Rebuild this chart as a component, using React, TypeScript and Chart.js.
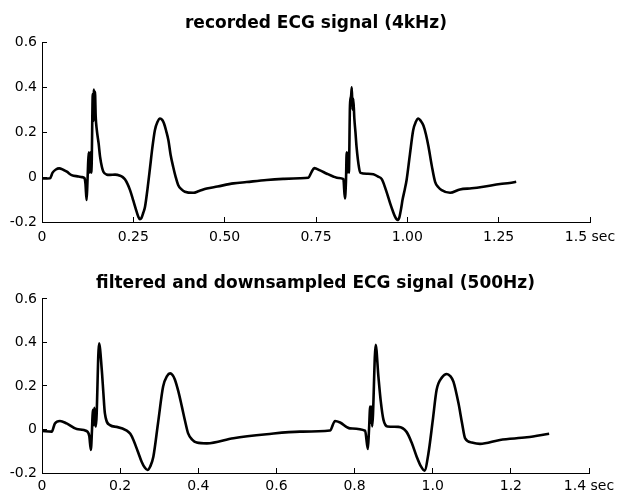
import React, { useEffect, useRef } from "react";
import { Chart, registerables } from "chart.js";

Chart.register(...registerables);

// recorded ECG (4kHz) — time (s) and amplitude
const recordedTimes = [
  0, 0.022, 0.029, 0.038, 0.047, 0.058, 0.068, 0.081, 0.1, 0.109, 0.116, 0.119, 0.122, 0.124,
  0.126, 0.128, 0.13, 0.132, 0.134, 0.136, 0.139, 0.141, 0.142, 0.144, 0.145, 0.147, 0.15,
  0.155, 0.159, 0.164, 0.168, 0.176, 0.186, 0.2, 0.214, 0.221, 0.227, 0.234, 0.241, 0.25,
  0.259, 0.264, 0.268, 0.272, 0.277, 0.282, 0.289, 0.296, 0.302, 0.309, 0.316, 0.323, 0.329,
  0.334, 0.34, 0.346, 0.352, 0.359, 0.366, 0.373, 0.382, 0.391, 0.414, 0.43, 0.451, 0.48,
  0.524, 0.56, 0.615, 0.66, 0.706, 0.729, 0.737, 0.745, 0.761, 0.78, 0.797, 0.812, 0.825,
  0.829, 0.832, 0.834, 0.836, 0.838, 0.84, 0.843, 0.846, 0.848, 0.85, 0.852, 0.855, 0.858,
  0.861, 0.868, 0.872, 0.89, 0.907, 0.92, 0.93, 0.942, 0.953, 0.96, 0.966, 0.973, 0.978,
  0.983, 0.987, 0.993, 0.998, 1.007, 1.016, 1.023, 1.03, 1.037, 1.044, 1.051, 1.058, 1.067,
  1.076, 1.085, 1.094, 1.117, 1.144, 1.176, 1.208, 1.254, 1.28, 1.298,
];
const recordedValues = [
  -0.006, -0.005, 0.02, 0.034, 0.039, 0.033, 0.024, 0.009, 0.003, 0.0, -0.004, -0.03, -0.102,
  -0.04, 0.05, 0.11, 0.02, 0.11, 0.02, 0.06, 0.37, 0.25, 0.39, 0.33, 0.38, 0.27, 0.21, 0.15,
  0.09, 0.045, 0.024, 0.012, 0.01, 0.011, 0.006, 0.0, -0.01, -0.03, -0.058, -0.105, -0.154,
  -0.178, -0.188, -0.183, -0.16, -0.132, -0.05, 0.046, 0.13, 0.209, 0.245, 0.261, 0.255, 0.239,
  0.205, 0.164, 0.1, 0.046, 0.0, -0.036, -0.055, -0.065, -0.07, -0.062, -0.051, -0.042, -0.028,
  -0.022, -0.013, -0.008, -0.005, -0.003, 0.02, 0.04, 0.03, 0.015, 0.003, -0.004, -0.009,
  -0.095, -0.02, 0.11, 0.02, 0.11, 0.02, 0.32, 0.36, 0.4, 0.3, 0.35, 0.26, 0.2, 0.135, 0.04,
  0.019, 0.015, 0.013, 0.002, -0.009, -0.06, -0.117, -0.15, -0.175, -0.191, -0.18, -0.14, -0.1,
  -0.055, -0.013, 0.1, 0.209, 0.245, 0.261, 0.25, 0.23, 0.19, 0.135, 0.05, -0.021, -0.045,
  -0.058, -0.07, -0.055, -0.05, -0.043, -0.031, -0.026, -0.021,
];

// filtered and downsampled ECG (500Hz)
const filteredTimes = [
  0, 0.025, 0.033, 0.046, 0.063, 0.089, 0.114, 0.121, 0.125, 0.128, 0.13, 0.132, 0.134, 0.136,
  0.138, 0.146, 0.153, 0.157, 0.161, 0.174, 0.191, 0.217, 0.226, 0.234, 0.245, 0.255, 0.263,
  0.27, 0.277, 0.285, 0.297, 0.31, 0.32, 0.328, 0.334, 0.34, 0.349, 0.358, 0.366, 0.374, 0.385,
  0.396, 0.422, 0.49, 0.575, 0.66, 0.737, 0.75, 0.763, 0.788, 0.827, 0.834, 0.837, 0.84, 0.842,
  0.843, 0.845, 0.854, 0.861, 0.867, 0.874, 0.884, 0.912, 0.933, 0.946, 0.959, 0.97, 0.979,
  0.989, 1.0, 1.01, 1.024, 1.036, 1.045, 1.053, 1.066, 1.075, 1.083, 1.1, 1.121, 1.172, 1.241,
  1.298,
];
const filteredValues = [
  -0.007, -0.01, 0.028, 0.039, 0.028, 0.002, -0.007, -0.03, -0.094, 0.0, 0.09, 0.02, 0.1, 0.03,
  0.014, 0.396, 0.274, 0.17, 0.074, 0.02, 0.012, -0.005, -0.02, -0.048, -0.1, -0.148, -0.175,
  -0.186, -0.17, -0.125, 0.03, 0.197, 0.245, 0.258, 0.25, 0.23, 0.175, 0.105, 0.04, -0.018,
  -0.048, -0.06, -0.064, -0.04, -0.022, -0.01, -0.005, 0.039, 0.032, 0.005, -0.006, -0.09, 0.0,
  0.105, 0.03, 0.105, 0.014, 0.389, 0.243, 0.13, 0.044, 0.014, 0.012, -0.011, -0.06, -0.125,
  -0.17, -0.189, -0.11, 0.04, 0.182, 0.24, 0.255, 0.245, 0.22, 0.12, 0.03, -0.041, -0.06,
  -0.066, -0.048, -0.036, -0.02,
];

const yTickLabels = ["-0.2", "0", "0.2", "0.4", "0.6"];
const topXTickLabels = ["0", "0.25", "0.50", "0.75", "1.00", "1.25", "1.5 sec"];
const bottomXTickLabels = ["0", "0.2", "0.4", "0.6", "0.8", "1.0", "1.2", "1.4 sec"];

const topTitle = "recorded ECG signal (4kHz)";
const bottomTitle = "filtered and downsampled ECG signal (500Hz)";

const FONT = "DejaVu Sans";

function makeConfig(
  times: number[],
  values: number[],
  xMax: number,
  xStep: number,
  xLabels: string[],
  title: string,
  lay: { titleTop: number; titleBottom: number; xHeight: number; xPad: number; right: number }
): any {
  return {
    type: "line",
    data: {
      datasets: [
        {
          data: times.map((t, i) => ({ x: t, y: values[i] })),
          borderColor: "#000",
          borderWidth: 2.6,
          pointRadius: 0,
          cubicInterpolationMode: "monotone",
          fill: false,
        },
      ],
    },
    options: {
      responsive: false,
      animation: false,
      devicePixelRatio: 1,
      layout: { padding: 0 },
      plugins: {
        legend: { display: false },
        tooltip: { enabled: false },
        title: {
          display: true,
          text: title,
          fullSize: false,
          color: "#000",
          font: { family: FONT, size: 17, weight: "bold" },
          padding: { top: lay.titleTop, bottom: lay.titleBottom },
        },
      },
      scales: {
        x: {
          type: "linear",
          min: 0,
          max: xMax,
          border: { display: true, color: "#000", width: 1 },
          grid: { drawOnChartArea: false, drawTicks: true, tickLength: -5, color: "#000", lineWidth: 1 },
          ticks: {
            stepSize: xStep,
            autoSkip: false,
            maxRotation: 0,
            padding: lay.xPad,
            color: "#000",
            font: { family: FONT, size: 14 },
            callback: (_v: any, i: number) => xLabels[i],
          },
          afterFit: (s: any) => {
            s.height = lay.xHeight;
            s.paddingRight = lay.right;
            s.paddingLeft = 0;
          },
        },
        y: {
          type: "linear",
          min: -0.2,
          max: 0.6,
          border: { display: true, color: "#000", width: 1 },
          grid: { drawOnChartArea: false, drawTicks: true, tickLength: -5, color: "#000", lineWidth: 1 },
          ticks: {
            stepSize: 0.2,
            padding: 10,
            color: "#000",
            font: { family: FONT, size: 14 },
            callback: (_v: any, i: number) => yTickLabels[i],
          },
          afterFit: (s: any) => {
            s.width = 42;
          },
        },
      },
    },
  };
}

export default function App() {
  const topRef = useRef<HTMLCanvasElement>(null);
  const botRef = useRef<HTMLCanvasElement>(null);

  useEffect(() => {
    const c1 = new Chart(
      topRef.current as HTMLCanvasElement,
      makeConfig(recordedTimes, recordedValues, 1.5, 0.25, topXTickLabels, topTitle, {
        titleTop: 13,
        titleBottom: 9,
        xHeight: 28,
        xPad: 12,
        right: 28,
      })
    );
    const c2 = new Chart(
      botRef.current as HTMLCanvasElement,
      makeConfig(filteredTimes, filteredValues, 1.4, 0.2, bottomXTickLabels, bottomTitle, {
        titleTop: 23,
        titleBottom: 5.5,
        xHeight: 20,
        xPad: 9.5,
        right: 29,
      })
    );
    return () => {
      c1.destroy();
      c2.destroy();
    };
  }, []);

  return (
    <div style={{ position: "absolute", left: 0, top: 0, width: 618, height: 493, background: "#fff" }}>
      <canvas ref={topRef} width={618} height={250} style={{ display: "block" }} />
      <canvas ref={botRef} width={618} height={243} style={{ display: "block" }} />
    </div>
  );
}
